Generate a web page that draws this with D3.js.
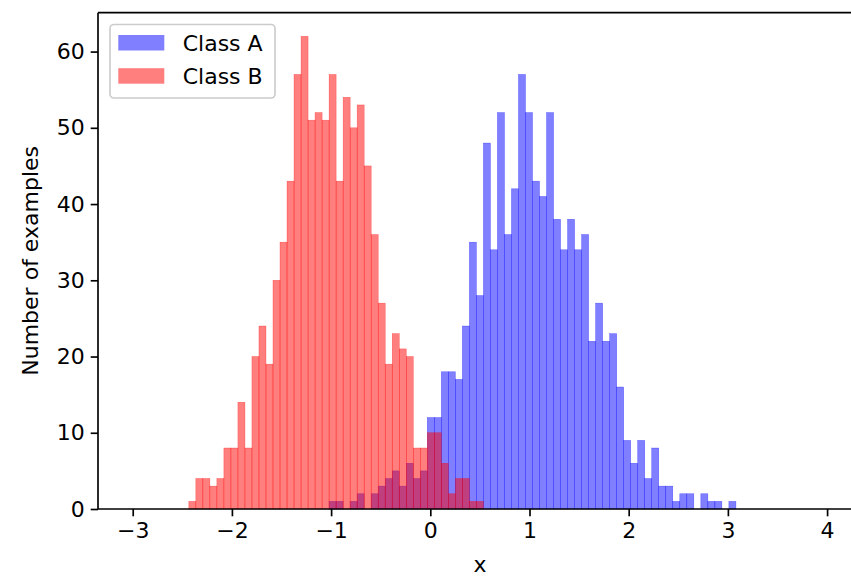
<!DOCTYPE html>
<html>
<head>
<meta charset="utf-8">
<script src="https://cdn.jsdelivr.net/npm/d3@7"></script>
<style>
  body { margin: 0; background: white; }
  svg { display: block; font-family: "DejaVu Sans", sans-serif; }
</style>
</head>
<body>
<div id="chart"></div>
<script>
// Histogram bins: 99 bins between -3 and 4
var binLo = -3;
var binHi = 4;
var binCount = 99;

// Counts per bin, class A starts at bin 28, class B at bin 8
var classAStart = 28;
var classACounts = [1, 1, 0, 1, 2, 0, 2, 3, 4, 5, 3, 6, 4, 5, 12, 12, 18, 18, 17, 24,
    35, 28, 48, 34, 52, 36, 42, 57, 52, 43, 41, 52, 38, 34, 38, 34, 36, 22, 27, 22,
    23, 16, 9, 6, 9, 4, 8, 3, 3, 1, 2, 2, 0, 2, 1, 1, 0, 1];
var classBStart = 8;
var classBCounts = [1, 4, 4, 3, 4, 8, 8, 14, 8, 20, 24, 19, 30, 35, 43, 57, 62, 51, 52, 51,
    57, 43, 54, 50, 53, 45, 36, 27, 19, 23, 21, 20, 8, 8, 10, 10, 6, 2, 4, 4, 1, 1];

var xTicks = [-3, -2, -1, 0, 1, 2, 3, 4];
var yTicks = [0, 10, 20, 30, 40, 50, 60];
var legendLabels = ["Class A", "Class B"];
var colors = ["rgba(0,0,255,0.5)", "rgba(255,0,0,0.5)"];

var width = 851;
var height = 576;
var margin = {left: 98, top: 12.7, bottom: 509};
var fontSize = 22;
var tickLen = 7.3;

var binWidth = (binHi - binLo) / binCount;
var xScale = d3.scaleLinear().domain([-3.35, 4.35]).range([margin.left, 861.8]);
var yScale = d3.scaleLinear().domain([0, 62 * 1.05]).range([margin.bottom, margin.top]);

function toBars(start, counts) {
    return counts.map(function(c, i) {
        var k = start + i;
        return {x0: binLo + k * binWidth, x1: binLo + (k + 1) * binWidth, n: c};
    });
}

var svg = d3.select("#chart").append("svg").attr("width", width).attr("height", height);

// Bars, class A first then class B on top
[toBars(classAStart, classACounts), toBars(classBStart, classBCounts)].forEach(function(bars, s) {
    svg.append("g")
        .selectAll("rect")
        .data(bars.filter(function(d) { return d.n > 0; }))
        .enter().append("rect")
        .attr("x", function(d) { return xScale(d.x0); })
        .attr("width", function(d) { return xScale(d.x1) - xScale(d.x0); })
        .attr("y", function(d) { return yScale(d.n); })
        .attr("height", function(d) { return yScale(0) - yScale(d.n); })
        .style("fill", colors[s])
        .style("stroke", colors[s])
        .style("stroke-width", 0.5);
});

// Axes
var xAxis = svg.append("g")
    .attr("transform", "translate(0," + margin.bottom + ")")
    .call(d3.axisBottom(xScale).tickValues(xTicks).tickSizeOuter(0).tickSize(tickLen).tickPadding(6)
        .tickFormat(function(d) { return d < 0 ? "\u2212" + Math.abs(d) : d; }));
var yAxis = svg.append("g")
    .attr("transform", "translate(" + margin.left + ",0)")
    .call(d3.axisLeft(yScale).tickValues(yTicks).tickSizeOuter(0).tickSize(tickLen).tickPadding(6));

[xAxis, yAxis].forEach(function(ax) {
    ax.select(".domain").remove();
    ax.selectAll(".tick line").style("stroke", "black").style("stroke-width", 1.67);
    ax.selectAll(".tick text").style("font-size", fontSize + "px").style("fill", "black")
        .style("font-family", "DejaVu Sans");
});

// Spines: left, top, bottom (right one falls outside the picture)
var spine = svg.append("g").style("stroke", "black").style("stroke-width", 1.67).style("fill", "none");
spine.append("line").attr("x1", margin.left).attr("x2", margin.left).attr("y1", margin.top).attr("y2", margin.bottom);
spine.append("line").attr("x1", margin.left).attr("x2", width + 20).attr("y1", margin.top).attr("y2", margin.top);
spine.append("line").attr("x1", margin.left).attr("x2", width + 20).attr("y1", margin.bottom).attr("y2", margin.bottom);

// Axis labels
svg.append("text")
    .attr("x", xScale(0.5)).attr("y", 572)
    .attr("text-anchor", "middle")
    .style("font-size", fontSize + "px")
    .text("x");
svg.append("text")
    .attr("transform", "translate(38," + (margin.top + margin.bottom) / 2 + ") rotate(-90)")
    .attr("text-anchor", "middle")
    .style("font-size", fontSize + "px")
    .text("Number of examples");

// Legend
var legend = svg.append("g");
legend.append("rect")
    .attr("x", 110).attr("y", 24.5).attr("width", 165).attr("height", 73.5)
    .attr("rx", 4)
    .style("fill", "rgba(255,255,255,0.8)")
    .style("stroke", "#cccccc").style("stroke-width", 1.67);
legendLabels.forEach(function(label, i) {
    legend.append("rect")
        .attr("x", 118.3).attr("y", 35 + i * 33.2).attr("width", 46).attr("height", 15.5)
        .style("fill", colors[i]);
    legend.append("text")
        .attr("x", 182.7).attr("y", 51 + i * 32.6)
        .style("font-size", fontSize + "px")
        .text(label);
});
</script>
</body>
</html>
